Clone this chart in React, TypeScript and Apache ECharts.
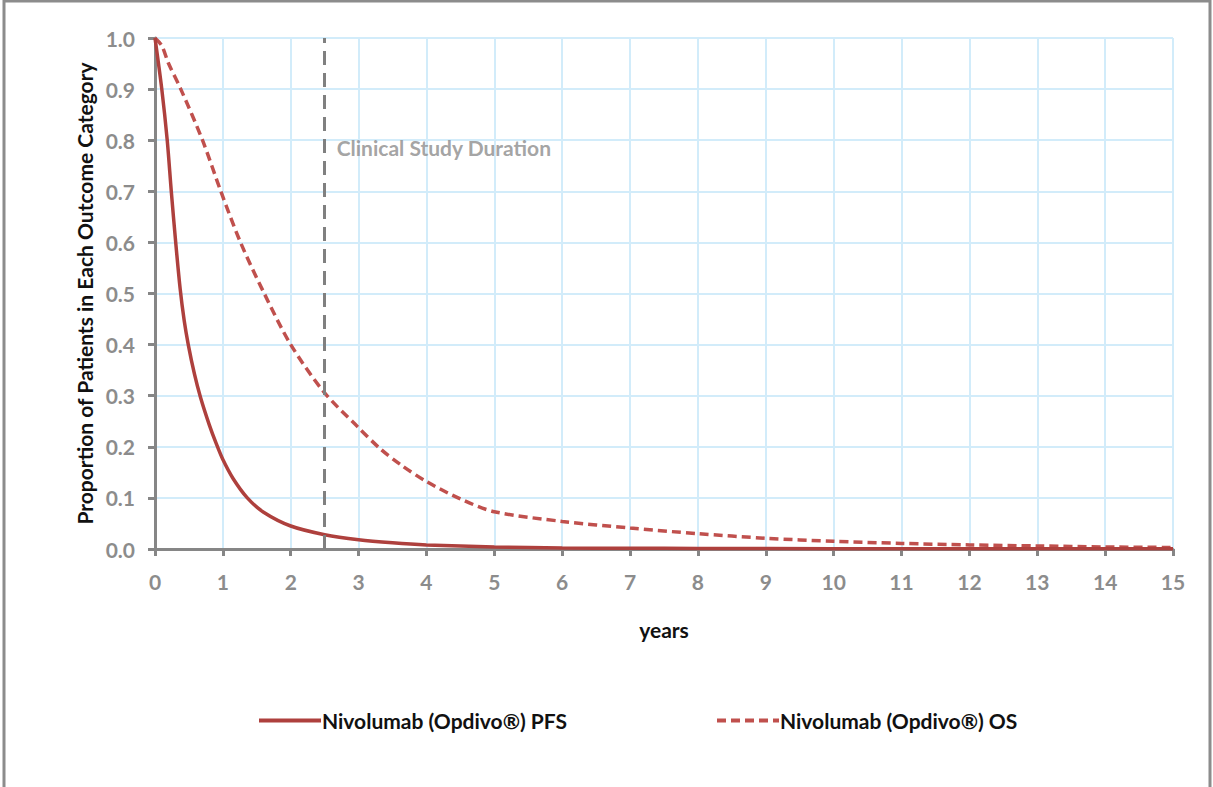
import React, { useEffect, useRef } from "react";
import * as echarts from "echarts";

const pfsYears = [0, 0.1, 0.18, 0.24, 0.305, 0.37, 0.43, 0.49, 0.58, 0.67, 0.8, 0.9, 1.0, 1.15, 1.36, 1.6, 2.0, 2.5, 3.0, 3.5, 4, 5, 6, 7, 8, 10, 12, 15];
const pfsValues = [1.0, 0.9, 0.8, 0.7, 0.6, 0.51, 0.447, 0.4, 0.343, 0.297, 0.243, 0.207, 0.175, 0.138, 0.1, 0.072, 0.045, 0.028, 0.018, 0.012, 0.008, 0.004, 0.002, 0.0015, 0.001, 0.0007, 0.0005, 0.0003];

const osYears = [0, 0.1, 0.2, 0.38, 0.7, 0.97, 1.26, 1.61, 2.0, 2.49, 2.98, 3.32, 3.62, 4, 4.5, 5, 6, 7, 8, 9, 10, 11, 12, 13, 14, 15];
const osValues = [1.0, 0.985, 0.95, 0.9, 0.8, 0.7, 0.6, 0.5, 0.4, 0.307, 0.24, 0.196, 0.165, 0.132, 0.098, 0.073, 0.054, 0.041, 0.03, 0.021, 0.015, 0.011, 0.008, 0.006, 0.004, 0.003];

const studyDuration = 2.5;
const studyLabelY = 0.785;
const studyLabel = "Clinical Study Duration";

const seriesNames = ["Nivolumab (Opdivo®) PFS", "Nivolumab (Opdivo®) OS"];
const xTitle = "years";
const yTitle = "Proportion of Patients in Each Outcome Category";

export default function App() {
  const ref = useRef<HTMLDivElement>(null);
  useEffect(() => {
    document.body.style.margin = "0";
    const chart = echarts.init(ref.current!, null, { renderer: "svg" });
    const axisColor = "#868686";
    const font = "Lato";
    const labelStyle = { color: "#8c8c8c", fontFamily: font, fontWeight: "bold" as const, fontSize: 21 };
    const legendText = { color: "#111", fontFamily: font, fontWeight: "bold", fontSize: 21, padding: [0, 0, 0, -4] };
    chart.setOption({
      animation: false,
      backgroundColor: "#ffffff",
      graphic: [
        {
          type: "rect",
          shape: { x: 4, y: 1, width: 1206, height: 800 },
          style: { fill: "none", stroke: "#8c8c8c", lineWidth: 3 },
          silent: true,
        },
      ],
      legend: [
        {
          data: [seriesNames[0]],
          left: 252,
          top: 705,
          itemWidth: 62,
          itemHeight: 14,
          itemStyle: { opacity: 0, color: "transparent", borderWidth: 0 },
          lineStyle: { width: 4 },
          textStyle: legendText,
        },
        {
          data: [seriesNames[1]],
          left: 710,
          top: 705,
          itemWidth: 62,
          itemHeight: 14,
          itemStyle: { opacity: 0, color: "transparent", borderWidth: 0 },
          lineStyle: { width: 4 },
          textStyle: legendText,
        },
      ],
      grid: { left: 155, right: 40, top: 38, bottom: 238, containLabel: false },
      xAxis: {
        type: "value",
        min: 0,
        max: 15,
        interval: 1,
        name: xTitle,
        nameLocation: "middle",
        nameGap: 70,
        nameTextStyle: { color: "#111", fontFamily: font, fontWeight: "bold", fontSize: 21 },
        axisLine: { show: true, onZero: false, lineStyle: { color: axisColor, width: 3 } },
        axisTick: { show: true, length: 7, lineStyle: { color: axisColor, width: 3 } },
        axisLabel: { ...labelStyle, margin: 22 },
        splitLine: { show: true, lineStyle: { color: "#d2ecfa", width: 2 } },
      },
      yAxis: {
        type: "value",
        min: 0,
        max: 1,
        interval: 0.1,
        name: yTitle,
        nameLocation: "middle",
        nameGap: 58,
        nameTextStyle: { color: "#111", fontFamily: font, fontWeight: "bold", fontSize: 21 },
        axisLine: { show: true, lineStyle: { color: axisColor, width: 3 } },
        axisTick: { show: true, length: 7, lineStyle: { color: axisColor, width: 3 } },
        axisLabel: { ...labelStyle, margin: 20, formatter: (v: number) => v.toFixed(1) },
        splitLine: { show: true, lineStyle: { color: "#d2ecfa", width: 2 } },
      },
      series: [
        {
          name: seriesNames[0],
          type: "line",
          data: pfsYears.map((x, i) => [x, pfsValues[i]]),
          smooth: 0.3,
          showSymbol: false,
          symbol: "none",
          lineStyle: { color: "#ae403d", width: 3.5, type: "solid" },
          itemStyle: { color: "#ae403d" },
          z: 4,
          markLine: {
            silent: true,
            symbol: "none",
            label: { show: false },
            lineStyle: { color: "#808080", width: 3, type: [14, 8] },
            data: [[{ coord: [studyDuration, 0] }, { coord: [studyDuration, 1] }]],
          },
        },
        {
          name: seriesNames[1],
          type: "line",
          data: osYears.map((x, i) => [x, osValues[i]]),
          smooth: 0.3,
          showSymbol: false,
          symbol: "none",
          lineStyle: { color: "#c0504d", width: 3.5, type: [9, 5] },
          itemStyle: { color: "#c0504d" },
          z: 3,
        },
        {
          name: "label",
          type: "scatter",
          data: [[studyDuration, studyLabelY]],
          symbolSize: 0,
          silent: true,
          label: {
            show: true,
            position: "right",
            distance: 12,
            formatter: studyLabel,
            color: "#8c8c8c",
            fontFamily: font,
            fontWeight: "bold",
            fontSize: 21,
          },
        },
      ],
    });
    return () => chart.dispose();
  }, []);
  return <div ref={ref} style={{ width: 1213, height: 787 }} />;
}
